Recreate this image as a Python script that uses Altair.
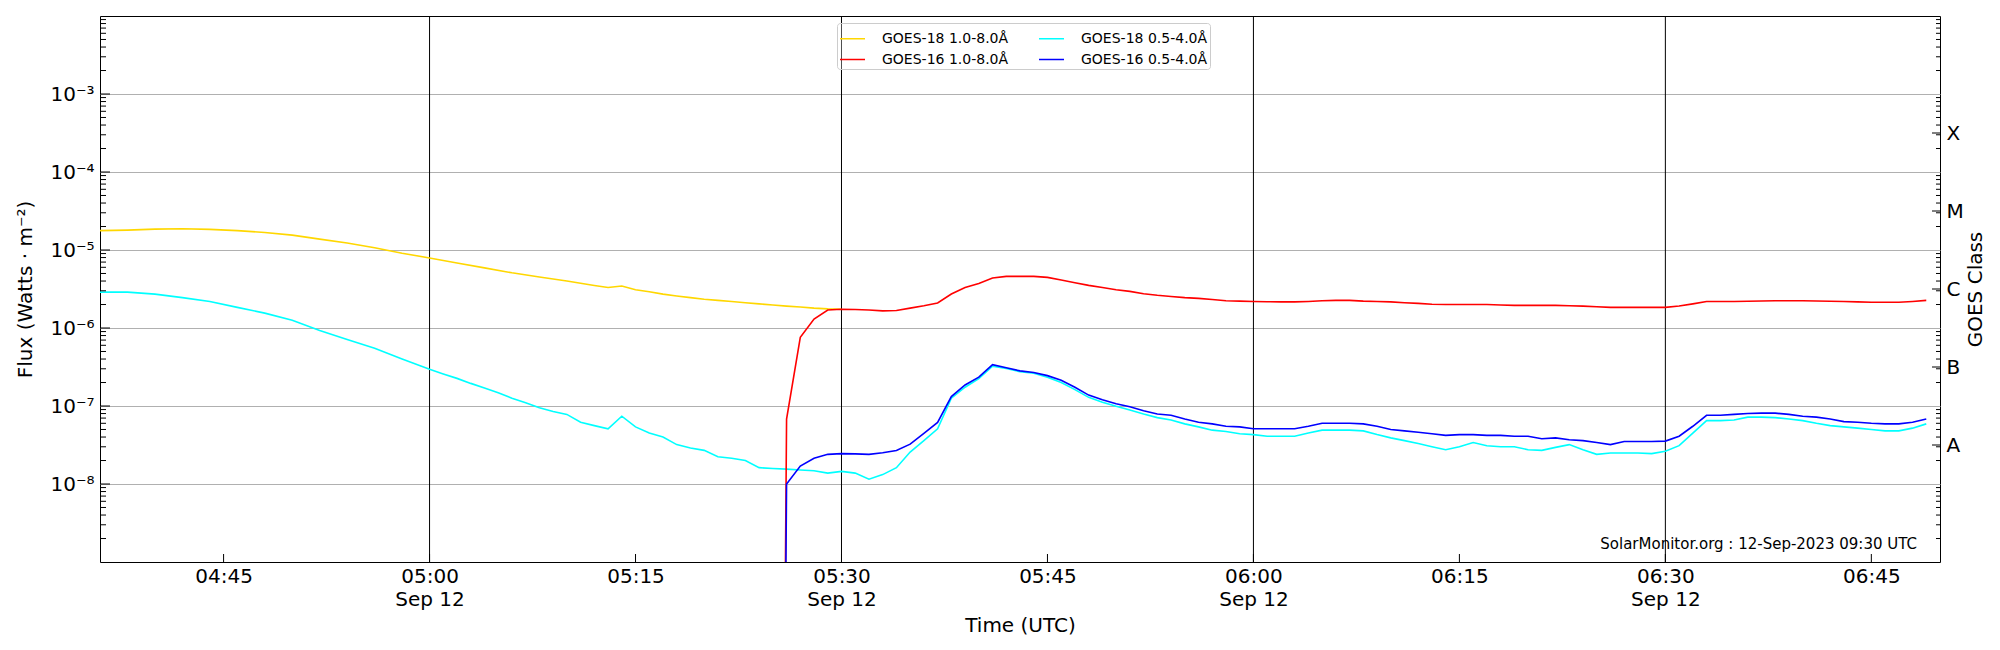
import altair as alt
import pandas as pd

FONT = "DejaVu Sans"
W, H = 1840, 546

# ---------------- data ----------------
FLOOR = 1e-30  # off-scale (non-positive) sample just before GOES-16 data starts

def minute_range(start, end):
    h0, m0 = map(int, start.split(":"))
    h1, m1 = map(int, end.split(":"))
    return [f"{t // 60:02d}:{t % 60:02d}" for t in range(h0 * 60 + m0, h1 * 60 + m1 + 1)]

# GOES-18 1.0-8.0 A (yellow)
g18_long_times = ["04:36", "04:38", "04:40", "04:42", "04:44", "04:46", "04:48", "04:50",
                  "04:52", "04:54", "04:56", "04:58", "05:00", "05:02", "05:04", "05:06",
                  "05:08", "05:10", "05:12"] + minute_range("05:13", "05:30")
g18_long_flux = [1.77e-5, 1.80e-5, 1.85e-5, 1.87e-5, 1.84e-5, 1.77e-5, 1.68e-5, 1.55e-5,
                 1.38e-5, 1.23e-5, 1.07e-5, 9.1e-6, 7.9e-6, 6.8e-6, 5.9e-6, 5.1e-6,
                 4.5e-6, 4.0e-6, 3.5e-6,
                 3.3e-6, 3.45e-6, 3.1e-6, 2.92e-6, 2.72e-6, 2.57e-6, 2.45e-6, 2.34e-6, 2.26e-6,
                 2.19e-6, 2.11e-6, 2.04e-6, 1.97e-6, 1.91e-6, 1.86e-6, 1.80e-6, 1.76e-6, 1.74e-6]

# GOES-18 0.5-4.0 A (cyan)
g18_short_times = ["04:36", "04:38", "04:40", "04:42", "04:44", "04:46", "04:48", "04:50",
                   "04:52", "04:54", "04:56", "04:58"] + minute_range("05:00", "06:49")
g18_short_flux = [2.88e-6, 2.88e-6, 2.72e-6, 2.45e-6, 2.19e-6, 1.84e-6, 1.55e-6, 1.26e-6,
                  9.3e-7, 7.1e-7, 5.5e-7, 4.0e-7,
                  2.95e-7, 2.57e-7, 2.26e-7, 1.95e-7, 1.70e-7, 1.48e-7, 1.26e-7, 1.10e-7, 9.5e-8, 8.5e-8,
                  7.8e-8, 6.2e-8, 5.6e-8, 5.1e-8, 7.4e-8, 5.4e-8, 4.5e-8, 4.0e-8, 3.2e-8, 2.9e-8,
                  2.7e-8, 2.24e-8, 2.14e-8, 2.0e-8, 1.62e-8, 1.58e-8, 1.55e-8, 1.51e-8, 1.48e-8, 1.38e-8,
                  1.45e-8, 1.38e-8, 1.15e-8, 1.32e-8, 1.62e-8, 2.57e-8, 3.6e-8, 5.1e-8, 1.26e-7, 1.74e-7,
                  2.24e-7, 3.24e-7, 3.02e-7, 2.75e-7, 2.63e-7, 2.34e-7, 2.0e-7, 1.62e-7, 1.29e-7, 1.12e-7,
                  9.9e-8, 8.9e-8, 7.9e-8, 7.1e-8, 6.6e-8, 5.9e-8, 5.4e-8, 4.9e-8, 4.7e-8, 4.4e-8,
                  4.3e-8, 4.1e-8, 4.1e-8, 4.1e-8, 4.5e-8, 4.9e-8, 4.9e-8, 4.9e-8, 4.8e-8, 4.3e-8,
                  3.9e-8, 3.6e-8, 3.3e-8, 3.0e-8, 2.75e-8, 3.0e-8, 3.4e-8, 3.1e-8, 3.0e-8, 3.0e-8,
                  2.75e-8, 2.7e-8, 2.95e-8, 3.2e-8, 2.75e-8, 2.4e-8, 2.5e-8, 2.5e-8, 2.5e-8, 2.45e-8,
                  2.63e-8, 3.1e-8, 4.5e-8, 6.5e-8, 6.5e-8, 6.6e-8, 7.2e-8, 7.2e-8, 7.1e-8, 6.8e-8,
                  6.5e-8, 6.0e-8, 5.6e-8, 5.4e-8, 5.2e-8, 5.0e-8, 4.8e-8, 4.8e-8, 5.2e-8, 5.9e-8]

# GOES-16 (both channels) 05:25 - 06:49
g16_times = minute_range("05:25", "06:49")
g16_long_flux = [FLOOR,
                 6.8e-8, 7.6e-7, 1.30e-6, 1.70e-6,
                 1.74e-6, 1.73e-6, 1.70e-6, 1.66e-6, 1.68e-6, 1.80e-6, 1.93e-6, 2.09e-6, 2.73e-6, 3.31e-6,
                 3.73e-6, 4.37e-6, 4.59e-6, 4.59e-6, 4.59e-6, 4.46e-6, 4.12e-6, 3.80e-6, 3.52e-6, 3.31e-6,
                 3.09e-6, 2.95e-6, 2.75e-6, 2.63e-6, 2.54e-6, 2.45e-6, 2.40e-6, 2.32e-6, 2.24e-6, 2.21e-6,
                 2.19e-6, 2.17e-6, 2.16e-6, 2.16e-6, 2.19e-6, 2.24e-6, 2.26e-6, 2.26e-6, 2.21e-6, 2.19e-6,
                 2.16e-6, 2.11e-6, 2.07e-6, 2.02e-6, 2.0e-6, 2.0e-6, 2.0e-6, 2.0e-6, 1.97e-6, 1.95e-6,
                 1.95e-6, 1.95e-6, 1.95e-6, 1.93e-6, 1.91e-6, 1.87e-6, 1.84e-6, 1.84e-6, 1.84e-6, 1.84e-6,
                 1.84e-6, 1.91e-6, 2.04e-6, 2.19e-6, 2.19e-6, 2.19e-6, 2.20e-6, 2.22e-6, 2.24e-6, 2.24e-6,
                 2.24e-6, 2.22e-6, 2.20e-6, 2.19e-6, 2.16e-6, 2.14e-6, 2.14e-6, 2.14e-6, 2.19e-6, 2.26e-6]
g16_short_flux = [FLOOR,
                  1.0e-8, 1.70e-8, 2.14e-8, 2.40e-8,
                  2.45e-8, 2.43e-8, 2.40e-8, 2.51e-8, 2.69e-8, 3.24e-8, 4.47e-8, 6.17e-8, 1.32e-7, 1.86e-7,
                  2.34e-7, 3.39e-7, 3.09e-7, 2.82e-7, 2.69e-7, 2.45e-7, 2.14e-7, 1.74e-7, 1.38e-7, 1.20e-7,
                  1.07e-7, 9.8e-8, 8.7e-8, 7.9e-8, 7.6e-8, 6.8e-8, 6.2e-8, 5.9e-8, 5.5e-8, 5.4e-8,
                  5.1e-8, 5.1e-8, 5.1e-8, 5.1e-8, 5.5e-8, 6.0e-8, 6.0e-8, 6.0e-8, 5.9e-8, 5.5e-8,
                  5.0e-8, 4.8e-8, 4.6e-8, 4.4e-8, 4.2e-8, 4.3e-8, 4.3e-8, 4.2e-8, 4.2e-8, 4.1e-8,
                  4.1e-8, 3.8e-8, 3.9e-8, 3.7e-8, 3.6e-8, 3.4e-8, 3.2e-8, 3.5e-8, 3.5e-8, 3.5e-8,
                  3.55e-8, 4.1e-8, 5.5e-8, 7.6e-8, 7.6e-8, 7.8e-8, 8.0e-8, 8.1e-8, 8.1e-8, 7.8e-8,
                  7.4e-8, 7.2e-8, 6.8e-8, 6.3e-8, 6.2e-8, 6.0e-8, 5.9e-8, 5.9e-8, 6.2e-8, 6.8e-8]

# legend order (filled column by column, as in the reference)
legend_names = ["GOES-18 1.0-8.0Å", "GOES-16 1.0-8.0Å", "GOES-18 0.5-4.0Å", "GOES-16 0.5-4.0Å"]
legend_colors = ["#ffd700", "#ff0000", "#00ffff", "#0000ff"]

vertical_line_times = ["05:00", "05:30", "06:00", "06:30"]
x_tick_times = ["04:45", "05:00", "05:15", "05:30", "05:45", "06:00", "06:15", "06:30", "06:45"]
decades = [1e-8, 1e-7, 1e-6, 1e-5, 1e-4, 1e-3]
class_letters = ["A", "B", "C", "M", "X"]
class_positions = [3.162e-8, 3.162e-7, 3.162e-6, 3.162e-5, 3.162e-4]
watermark = "SolarMonitor.org : 12-Sep-2023 09:30 UTC"

# ---------------- build tables ----------------
def iso(hm):
    return f"2023-09-12T{hm}:00Z"

def dt(hm):
    return alt.DateTime(year=2023, month=9, date=12, hours=int(hm[:2]), minutes=int(hm[3:]), utc=True)

# drawing order: yellow, cyan, red, blue
series_data = [
    ("GOES-18 1.0-8.0Å", g18_long_times, g18_long_flux),
    ("GOES-18 0.5-4.0Å", g18_short_times, g18_short_flux),
    ("GOES-16 1.0-8.0Å", g16_times, g16_long_flux),
    ("GOES-16 0.5-4.0Å", g16_times, g16_short_flux),
]

minor_ticks = [m * 10.0 ** e for e in range(-9, -2) for m in range(2, 10)]
vlines_df = pd.DataFrame({"time": [iso(t) for t in vertical_line_times]})
xticks_df = pd.DataFrame({"time": [iso(t) for t in x_tick_times]})
major_df = pd.DataFrame({"flux": decades})
minor_df = pd.DataFrame({"flux": minor_ticks})
class_df = pd.DataFrame({"flux": class_positions, "letter": class_letters})
wm_df = pd.DataFrame({"t": [watermark]})

# ---------------- scales / axes ----------------
xscale = alt.Scale(type="utc", domain=[dt("04:36"), dt("06:50")])
yscale = alt.Scale(type="log", domain=[1e-9, 1e-2])
cscale = alt.Scale(domain=legend_names, range=legend_colors)

xaxis = alt.Axis(
    values=[dt(t) for t in x_tick_times],
    labelExpr="[utcFormat(datum.value, '%H:%M'), utcminutes(datum.value) % 30 == 0 ? utcFormat(datum.value, '%b %d') : '']",
    ticks=False, domain=False, grid=False,
    labelFont=FONT, labelFontSize=20, labelColor="black", labelPadding=4,
    labelLineHeight=23, labelOverlap=False, labelBaseline="top",
    title="Time (UTC)", titleFont=FONT, titleFontSize=20, titleFontWeight="normal",
    titleColor="black", titleX=W / 2, titleY=69, titleBaseline="alphabetic", titleAlign="center",
)

sup = "⁰¹²³⁴⁵⁶⁷⁸⁹"
left_axis = alt.Axis(
    orient="left", values=decades,
    labelExpr=f"'10⁻' + substring('{sup}', round(-log(datum.value)/LN10), round(-log(datum.value)/LN10) + 1)",
    ticks=False, domain=False, grid=True, gridColor="#b0b0b0", gridWidth=1,
    labelFont=FONT, labelFontSize=20, labelColor="black", labelPadding=6,
    title="Flux (Watts · m⁻²)", titleFont=FONT, titleFontSize=20, titleFontWeight="normal",
    titleColor="black", titleX=-75, titleY=H / 2, titleAngle=270,
    titleBaseline="middle", titleAlign="center",
)

right_axis = alt.Axis(
    orient="right", values=class_positions,
    labelExpr="datum.value > 1e-4 ? 'X' : datum.value > 1e-5 ? 'M' : datum.value > 1e-6 ? 'C' : datum.value > 1e-7 ? 'B' : 'A'",
    ticks=False, domain=False, grid=False,
    labelFont=FONT, labelFontSize=20, labelColor="black", labelPadding=6, labelAlign="left",
    title="GOES Class", titleFont=FONT, titleFontSize=20, titleFontWeight="normal",
    titleColor="black", titleX=35, titleY=H / 2, titleAngle=270,
    titleBaseline="middle", titleAlign="center",
)

legend = alt.Legend(
    orient="none", legendX=737, legendY=7, columns=2, title=None,
    symbolType="stroke", symbolSize=625, symbolStrokeWidth=1.5,
    labelFont=FONT, labelFontSize=14, labelColor="black", labelOffset=16, labelLimit=0,
    columnPadding=27, rowPadding=0, padding=2,
    strokeColor="#cccccc", fillColor="rgba(255,255,255,0.3)", cornerRadius=3,
)

# ---------------- layers ----------------
vlines = alt.Chart(vlines_df).mark_rule(color="black", strokeWidth=1).encode(
    x=alt.X("time:T", scale=xscale, axis=xaxis)
)

line_layers = []
for i, (name, times, flux) in enumerate(series_data):
    df = pd.DataFrame({"time": [iso(t) for t in times], "flux": flux, "series": name})
    line_layers.append(
        alt.Chart(df).mark_line(clip=True, strokeWidth=1.6).encode(
            x=alt.X("time:T", scale=xscale, axis=xaxis),
            y=alt.Y("flux:Q", scale=yscale, axis=left_axis if i == 0 else None),
            color=alt.Color("series:N", scale=cscale, legend=legend),
        )
    )

def yticks(df, x0, x1, axis=None):
    return alt.Chart(df).mark_rule(color="black", strokeWidth=1).encode(
        y=alt.Y("flux:Q", scale=yscale, axis=axis),
        x=alt.value(x0), x2=alt.value(x1),
    )

left_major = yticks(major_df, 0, 10)
left_minor = yticks(minor_df, 0, 6)
right_minor = yticks(minor_df, W - 4, W)
right_major = yticks(class_df, W - 8, W, axis=right_axis)

xticks = alt.Chart(xticks_df).mark_rule(color="black", strokeWidth=1).encode(
    x=alt.X("time:T", scale=xscale, axis=xaxis),
    y=alt.value(H), y2=alt.value(H - 8),
)

wm = alt.Chart(wm_df).mark_text(
    align="right", baseline="alphabetic", font=FONT, fontSize=15, color="black"
).encode(text="t:N", x=alt.value(1817), y=alt.value(533))

chart = alt.layer(
    vlines, *line_layers, left_major, left_minor, right_minor, right_major, xticks, wm
).resolve_axis(y="independent").properties(
    width=W, height=H,
    autosize=alt.AutoSizeParams(type="none"),
    padding={"left": 92, "top": 8, "right": 52, "bottom": 80},
    background="white",
).configure_view(stroke="black", strokeWidth=1)

chart.save("out.html", embed_options={"renderer": "svg", "actions": False})
